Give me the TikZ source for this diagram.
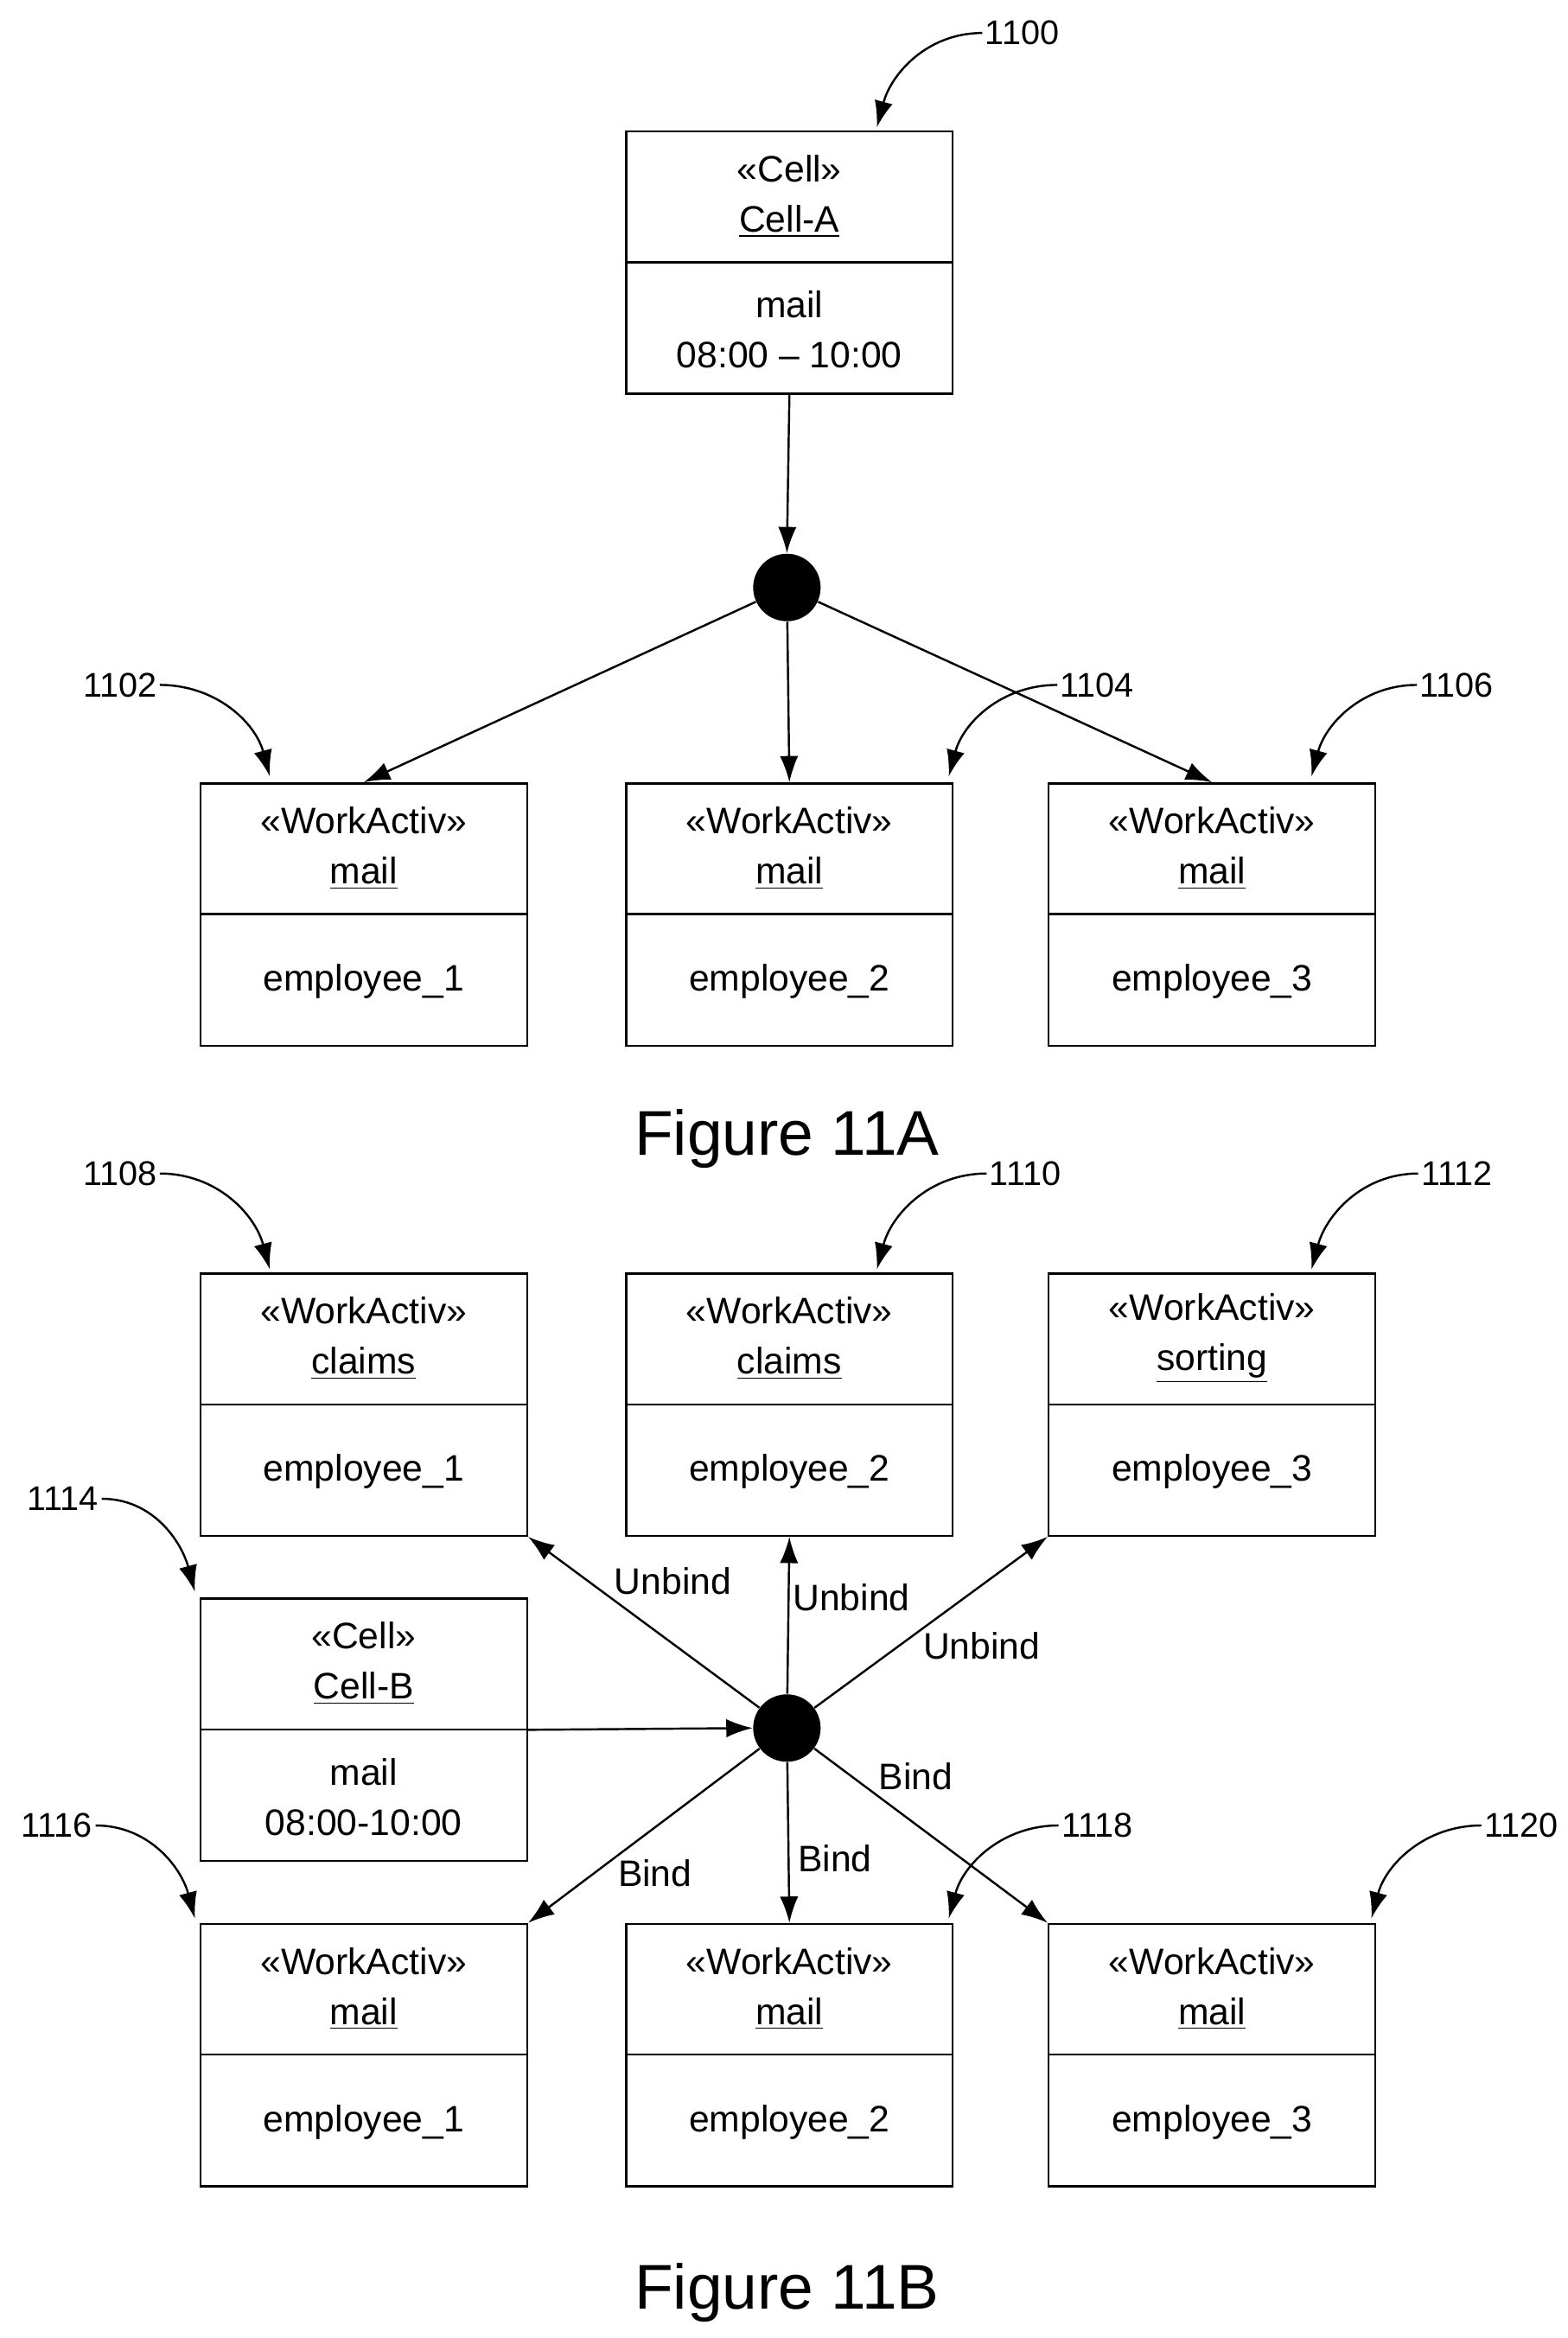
\documentclass[tikz,border=0pt]{standalone}
\usepackage{fontspec}
\setmainfont{Liberation Sans}
\usetikzlibrary{arrows.meta}
\tikzset{box/.style={draw,line width=0.8pt,minimum width=4.36cm,minimum height=3.5cm,anchor=north west,inner sep=0pt}}
\tikzset{lbl/.style={font=\fontsize{14}{19}\selectfont,align=center,inner sep=1pt}}
\tikzset{refnum/.style={font=\fontsize{13}{15}\selectfont,inner sep=1pt}}
\tikzset{link/.style={line width=0.8pt,-{Latex[length=10pt,width=7pt]}}}
\tikzset{dot/.style={circle,fill=black,minimum size=0.9cm,inner sep=0pt}}
\newcommand{\umlbox}[6]{% name, x, y, stereotype, title, body
  \node[box] (#1) at (#2,#3) {};
  \draw[line width=0.8pt] ([yshift=-1.76cm]#1.north west) -- ([yshift=-1.76cm]#1.north east);
  \node[lbl] (#1-head) at ([yshift=-0.88cm]#1.north) {#4\\\underline{#5}};
  \node[lbl] (#1-body) at ([yshift=0.87cm]#1.south) {#6};
}
\begin{document}
\begin{tikzpicture}[x=0.02cm,y=-0.02cm]
\useasboundingbox (0,0) rectangle (1046,1560);
% Figure 11A
\umlbox{cellA}{417}{87}{<<Cell>>}{Cell-A}{mail\\08:00 -- 10:00}
\umlbox{waA}{133}{522}{<<WorkActiv>>}{mail}{employee\_1}
\umlbox{waB}{417}{522}{<<WorkActiv>>}{mail}{employee\_2}
\umlbox{waC}{699}{522}{<<WorkActiv>>}{mail}{employee\_3}
\node[dot] (forkA) at (525,392) {};
\draw[link] (cellA.south) -- (forkA.north);
\draw[link] (forkA) -- (waA.north);
\draw[link] (forkA) -- (waB.north);
\draw[link] (forkA) -- (waC.north);
\node[font=\fontsize{24}{28}\selectfont] (figA) at (525,760) {Figure 11A};
% Figure 11B
\umlbox{wbA}{133}{849}{<<WorkActiv>>}{claims}{employee\_1}
\umlbox{wbB}{417}{849}{<<WorkActiv>>}{claims}{employee\_2}
\umlbox{wbC}{699}{849}{<<WorkActiv>>}{sorting}{employee\_3}
\umlbox{cellB}{133}{1066}{<<Cell>>}{Cell-B}{mail\\08:00-10:00}
\umlbox{wcA}{133}{1283}{<<WorkActiv>>}{mail}{employee\_1}
\umlbox{wcB}{417}{1283}{<<WorkActiv>>}{mail}{employee\_2}
\umlbox{wcC}{699}{1283}{<<WorkActiv>>}{mail}{employee\_3}
\node[dot] (forkB) at (525,1153) {};
\draw[link] (cellB.east) -- (forkB.west);
\draw[link] (forkB) -- (wbA.south east);
\draw[link] (forkB) -- (wbB.south);
\draw[link] (forkB) -- (wbC.south west);
\draw[link] (forkB) -- (wcA.north east);
\draw[link] (forkB) -- (wcB.north);
\draw[link] (forkB) -- (wcC.north west);
\node[lbl] (ub1) at (449,1055) {Unbind};
\node[lbl] (ub2) at (568,1066) {Unbind};
\node[lbl] (ub3) at (655,1098) {Unbind};
\node[lbl] (bd1) at (611,1185) {Bind};
\node[lbl] (bd2) at (557,1240) {Bind};
\node[lbl] (bd3) at (437,1250) {Bind};
\node[font=\fontsize{24}{28}\selectfont] (figB) at (525,1530) {Figure 11B};
% reference numerals
\foreach \num/\x/\y/\tx/\ty/\io in {
  1100/682/22/585/85/l, 1104/732/457/633/518/l, 1106/972/457/875/518/l,
  1110/684/783/585/847/l, 1112/972/783/875/847/l, 1118/732/1218/633/1280/l,
  1120/1015/1218/915/1280/l,
  1102/80/457/180/518/r, 1108/80/783/180/847/r, 1114/42/1000/130/1062/r,
  1116/38/1218/130/1280/r}
{
  \node[refnum] (r\num) at (\x,\y) {\num};
  \coordinate (t\num) at (\tx,\ty);
  \if\io l
    \draw[link] (r\num.west) to[out=180,in=75] (t\num);
  \else
    \draw[link] (r\num.east) to[out=0,in=105] (t\num);
  \fi
}
\end{tikzpicture}
\end{document}
